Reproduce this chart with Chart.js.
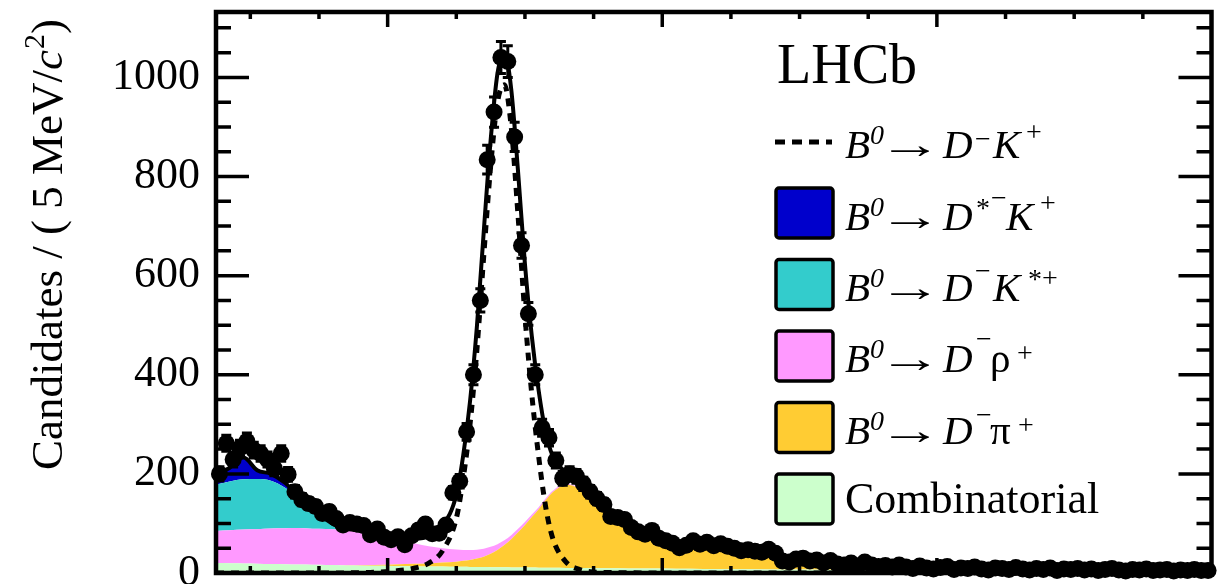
<!DOCTYPE html>
<html>
<head>
<meta charset="utf-8">
<script src="https://cdn.jsdelivr.net/npm/chart.js@4.4.1/dist/chart.umd.min.js"></script>
<style>
  html, body { margin: 0; padding: 0; background: #fff; }
</style>
</head>
<body>
<canvas id="massChart" width="1220" height="584"></canvas>
<script>
// m(D- K+) bin centres, 5 MeV/c2 bins
const binCenters = [
  5077.5, 5082.5, 5087.5, 5092.5, 5097.5, 5102.5, 5107.5, 5112.5, 5117.5, 5122.5,
  5127.5, 5132.5, 5137.5, 5142.5, 5147.5, 5152.5, 5157.5, 5162.5, 5167.5, 5172.5,
  5177.5, 5182.5, 5187.5, 5192.5, 5197.5, 5202.5, 5207.5, 5212.5, 5217.5, 5222.5,
  5227.5, 5232.5, 5237.5, 5242.5, 5247.5, 5252.5, 5257.5, 5262.5, 5267.5, 5272.5,
  5277.5, 5282.5, 5287.5, 5292.5, 5297.5, 5302.5, 5307.5, 5312.5, 5317.5, 5322.5,
  5327.5, 5332.5, 5337.5, 5342.5, 5347.5, 5352.5, 5357.5, 5362.5, 5367.5, 5372.5,
  5377.5, 5382.5, 5387.5, 5392.5, 5397.5, 5402.5, 5407.5, 5412.5, 5417.5, 5422.5,
  5427.5, 5432.5, 5437.5, 5442.5, 5447.5, 5452.5, 5457.5, 5462.5, 5467.5, 5472.5,
  5477.5, 5482.5, 5487.5, 5492.5, 5497.5, 5502.5, 5507.5, 5512.5, 5517.5, 5522.5,
  5527.5, 5532.5, 5537.5, 5542.5, 5547.5, 5552.5, 5557.5, 5562.5, 5567.5, 5572.5,
  5577.5, 5582.5, 5587.5, 5592.5, 5597.5, 5602.5, 5607.5, 5612.5, 5617.5, 5622.5,
  5627.5, 5632.5, 5637.5, 5642.5, 5647.5, 5652.5, 5657.5, 5662.5, 5667.5, 5672.5,
  5677.5, 5682.5, 5687.5, 5692.5, 5697.5, 5702.5, 5707.5, 5712.5, 5717.5, 5722.5,
  5727.5, 5732.5, 5737.5, 5742.5, 5747.5, 5752.5, 5757.5, 5762.5, 5767.5, 5772.5,
  5777.5, 5782.5, 5787.5, 5792.5, 5797.5
];

const candidates = [
  200, 262, 229, 252, 266, 248, 241, 229, 211, 241,
  199, 164, 148, 140, 134, 120, 124, 110, 97, 102,
  99, 96, 77, 89, 72, 67, 73, 57, 75, 87,
  99, 79, 80, 97, 162, 185, 285, 400, 550, 834,
  930, 1040, 1032, 880, 661, 523, 400, 293, 273, 227,
  191, 200, 195, 180, 164, 150, 138, 114, 112, 108,
  92, 83, 78, 86, 70, 65, 60, 51, 56, 65,
  58, 62, 55, 59, 54, 50, 45, 47, 44, 42,
  48, 40, 24, 22, 28, 30, 24, 26, 20, 25,
  18, 16, 20, 14, 22, 16, 13, 15, 12, 16,
  12, 9, 14, 10, 8, 11, 13, 7, 10, 9,
  12, 8, 6, 10, 9, 7, 11, 8, 6, 9,
  7, 10, 5, 8, 7, 9, 6, 8, 5, 7,
  9, 6, 4, 7, 6, 8, 5, 6, 7, 4,
  6, 5, 7, 5, 5
];

// fit components, sampled on one mass grid
const curveMass = [
  5075, 5085, 5095, 5105, 5115, 5125, 5135, 5145, 5155, 5165,
  5175, 5190, 5205, 5220, 5230, 5240, 5250, 5255, 5260, 5265,
  5270, 5275, 5280, 5285, 5290, 5295, 5300, 5305, 5310, 5315,
  5320, 5330, 5340, 5350, 5360, 5375, 5390, 5410, 5430, 5460,
  5500, 5550, 5600, 5650, 5700, 5750, 5800
];
const combinatorial = [
  20, 19.5, 19, 18.5, 18, 17.5, 17, 16.5, 16, 15.5,
  15, 14.5, 14, 13.5, 13, 13, 12.5, 12.5, 12.3, 12.1,
  12, 11.8, 11.6, 11.5, 11.3, 11.2, 11, 10.9, 10.8, 10.7,
  10.5, 10.3, 10, 9.8, 9.6, 9.3, 9, 8.6, 8.3, 7.8,
  7.2, 6.4, 5.7, 5, 4.4, 3.9, 3.5
];
const dPi = [
  0, 0, 0, 0, 0, 0, 0, 0, 0, 0,
  0.5, 1.5, 3, 5, 6, 8, 10, 12, 14, 17,
  21, 27, 35, 45, 57, 71, 86, 102, 118, 136,
  152, 168, 160, 138, 116, 92, 74, 56, 45, 35,
  24, 14, 9, 7, 5.5, 4, 3.5
];
const dRho = [
  65, 67, 69, 70, 72, 73, 74, 73, 73, 72,
  70, 62, 50, 41, 35, 29, 25, 22, 20, 18,
  16, 14, 11.5, 9.5, 8, 7, 6, 5, 4, 3.5,
  3, 2, 1.5, 1, 0.7, 0.4, 0.2, 0.1, 0, 0,
  0, 0, 0, 0, 0, 0, 0
];
const dKst = [
  93, 98, 101, 101, 96, 82, 61, 41, 19, 5,
  1, 0, 0, 0, 0, 0, 0, 0, 0, 0,
  0, 0, 0, 0, 0, 0, 0, 0, 0, 0,
  0, 0, 0, 0, 0, 0, 0, 0, 0, 0,
  0, 0, 0, 0, 0, 0, 0
];
const dstK = [
  20, 28, 44, 18, 14, 10, 4, 1, 0, 0,
  0, 0, 0, 0, 0, 0, 0, 0, 0, 0,
  0, 0, 0, 0, 0, 0, 0, 0, 0, 0,
  0, 0, 0, 0, 0, 0, 0, 0, 0, 0,
  0, 0, 0, 0, 0, 0, 0
];
const signalDK = [
  0, 0, 0, 0, 0, 0, 0, 0, 0, 0,
  0.5, 1.5, 4, 10, 20, 45, 110, 190, 300, 450,
  640, 820, 950, 985, 900, 720, 520, 360, 235, 135,
  72, 22, 7, 2, 1, 0.5, 0, 0, 0, 0,
  0, 0, 0, 0, 0, 0, 0
];

const yTickValues = [0, 200, 400, 600, 800, 1000];
const yMinorValues = [50, 100, 150, 250, 300, 350, 450, 500, 550, 650, 700, 750, 850, 900, 950, 1050, 1100];
const xTickValues = [5200, 5400, 5600];
const xMinorValues = [5100, 5150, 5250, 5300, 5350, 5450, 5500, 5550, 5650, 5700, 5750];

const SERIF = '"Liberation Serif", "Times New Roman", "DejaVu Serif", serif';

function pts(ys) {
  return curveMass.map((m, i) => ({ x: m, y: ys[i] }));
}

function area(label, ys, color, fill) {
  return {
    label, data: pts(ys), stack: 'bkg', order: 2,
    backgroundColor: color, borderWidth: 0, fill,
    pointRadius: 0, cubicInterpolationMode: 'monotone'
  };
}

function font(size, italic) {
  return (italic ? 'italic ' : '') + size + 'px ' + SERIF;
}

function put(ctx, s, x, y, size, italic) {
  ctx.font = font(size, italic);
  ctx.fillText(s, x, y);
}

// long arrow, ink stretched to span x0..x1
function arrow(ctx, x0, x1, y) {
  ctx.font = font(41, false);
  const m = ctx.measureText('\u2192');
  const ink = m.actualBoundingBoxRight + m.actualBoundingBoxLeft;
  const k = (x1 - x0) / ink;
  ctx.save();
  ctx.translate(x0, y);
  ctx.scale(k, 1);
  ctx.fillText('\u2192', m.actualBoundingBoxLeft, 0);
  ctx.restore();
}

function decayLabel(ctx, y, tail) {
  put(ctx, 'B', 845, y, 41, true);
  put(ctx, '0', 870, y - 14, 28, true);
  arrow(ctx, 891, 930, y);
  put(ctx, 'D', 943, y, 41, true);
  tail.forEach(p => put(ctx, p[0], p[1], y - p[2], p[3], p[4]));
}

const errorBars = {
  id: 'errorBars',
  beforeDatasetDraw(chart, args) {
    if (args.index !== 7) return;
    const { ctx, scales: { y } } = chart;
    const meta = chart.getDatasetMeta(7);
    ctx.save();
    ctx.strokeStyle = '#000';
    ctx.lineWidth = 3;
    ctx.beginPath();
    meta.data.forEach((pt, i) => {
      const n = candidates[i];
      const e = Math.sqrt(n);
      const top = y.getPixelForValue(n + e);
      const bot = y.getPixelForValue(n - e);
      ctx.moveTo(pt.x, top); ctx.lineTo(pt.x, bot);
      ctx.moveTo(pt.x - 5, top); ctx.lineTo(pt.x + 5, top);
      ctx.moveTo(pt.x - 5, bot); ctx.lineTo(pt.x + 5, bot);
    });
    ctx.stroke();
    ctx.restore();
  }
};

const frame = {
  id: 'frame',
  afterDatasetsDraw(chart) {
    const { ctx, chartArea: a, scales: { x, y } } = chart;
    ctx.save();
    ctx.strokeStyle = '#000';
    ctx.lineWidth = 3.5;
    ctx.beginPath();
    xTickValues.concat(xMinorValues).forEach(v => {
      const px = x.getPixelForValue(v);
      const len = xTickValues.includes(v) ? 15 : 7;
      ctx.moveTo(px, a.top); ctx.lineTo(px, a.top + len);
      ctx.moveTo(px, a.bottom); ctx.lineTo(px, a.bottom - len);
    });
    yTickValues.concat(yMinorValues).forEach(v => {
      const py = y.getPixelForValue(v);
      const len = yTickValues.includes(v) ? 33 : 15;
      ctx.moveTo(a.left, py); ctx.lineTo(a.left + len, py);
      ctx.moveTo(a.right, py); ctx.lineTo(a.right - len, py);
    });
    ctx.stroke();
    ctx.lineWidth = 4.5;
    ctx.strokeRect(a.left, a.top, a.right - a.left, a.bottom - a.top);
    ctx.restore();
  }
};

const annotations = {
  id: 'annotations',
  afterDraw(chart) {
    const ctx = chart.ctx;
    ctx.save();
    ctx.fillStyle = '#000';
    ctx.textBaseline = 'alphabetic';
    ctx.textAlign = 'left';

    // y axis title
    ctx.save();
    ctx.translate(62, 470);
    ctx.rotate(-Math.PI / 2);
    let cx = 0;
    ctx.font = font(45, false);
    const head = 'Candidates / ( 5 MeV/';
    ctx.fillText(head, cx, 0); cx += ctx.measureText(head).width;
    ctx.font = font(45, true);
    ctx.fillText('c', cx, 0); cx += ctx.measureText('c').width + 1;
    ctx.font = font(30, false);
    ctx.fillText('2', cx, -18); cx += ctx.measureText('2').width;
    ctx.font = font(45, false);
    ctx.fillText(')', cx, 0);
    ctx.restore();

    put(ctx, 'LHCb', 777, 83, 56, false);

    // legend
    ctx.strokeStyle = '#000';
    ctx.lineWidth = 5;
    ctx.setLineDash([10, 7]);
    ctx.beginPath(); ctx.moveTo(775, 142); ctx.lineTo(832, 142); ctx.stroke();
    ctx.setLineDash([]);

    const boxes = ['#0000CC', '#33CCCC', '#FF99FF', '#FFCC33', '#CCFFCC'];
    ctx.lineWidth = 3.5;
    boxes.forEach((c, i) => {
      const top = 188 + i * 71.5;
      ctx.fillStyle = c;
      ctx.beginPath();
      ctx.roundRect(776, top, 57, 50, 3);
      ctx.fill();
      ctx.stroke();
    });
    ctx.fillStyle = '#000';

    decayLabel(ctx, 158, [['\u2212', 975, 10, 28, false], ['K', 993, 0, 41, true], ['+', 1026, 17, 28, false]]);
    decayLabel(ctx, 230, [['*', 976, 13, 28, false], ['\u2212', 991, 23, 28, false], ['K', 1006, 0, 41, true], ['+', 1040, 18, 28, false]]);
    decayLabel(ctx, 301, [['\u2212', 975, 21, 28, false], ['K', 993, 0, 41, true], ['*', 1028, 13, 28, false], ['+', 1042, 14, 28, false]]);
    decayLabel(ctx, 372, [['\u2212', 976, 24, 28, false], ['\u03C1', 990, 0, 41, false], ['+', 1017, 10, 28, false]]);
    decayLabel(ctx, 444, [['\u2212', 976, 20, 28, false], ['\u03C0', 990, 0, 41, false], ['+', 1018, 10, 28, false]]);
    put(ctx, 'Combinatorial', 845, 513, 44, false);
    ctx.restore();
  }
};

new Chart(document.getElementById('massChart'), {
  type: 'line',
  data: {
    datasets: [
      area('Combinatorial', combinatorial, '#CCFFCC', 'origin'),
      area('B0 -> D- pi+', dPi, '#FFCC33', '-1'),
      area('B0 -> D- rho+', dRho, '#FF99FF', '-1'),
      area('B0 -> D- K*+', dKst, '#33CCCC', '-1'),
      area('B0 -> D*- K+', dstK, '#0000CC', '-1'),
      {
        label: 'Total fit', data: pts(signalDK), stack: 'bkg', order: 2,
        borderColor: '#000', borderWidth: 4, fill: false,
        pointRadius: 0, cubicInterpolationMode: 'monotone'
      },
      {
        label: 'B0 -> D- K+', data: pts(signalDK), stack: 'sig', order: 1,
        borderColor: '#000', borderWidth: 5, borderDash: [8, 7], fill: false,
        pointRadius: 0, cubicInterpolationMode: 'monotone'
      },
      {
        type: 'scatter', label: 'Data', stack: 'pts', order: 0,
        data: binCenters.map((m, i) => ({ x: m, y: candidates[i] })),
        showLine: false, pointRadius: 8.5, pointBackgroundColor: '#000',
        pointBorderWidth: 0, clip: 10
      }
    ]
  },
  options: {
    responsive: false,
    animation: false,
    layout: { padding: { top: 12, right: 5, left: 0, bottom: 0 } },
    plugins: {
      legend: { display: false },
      tooltip: { enabled: false },
      filler: { drawTime: 'beforeDatasetsDraw' }
    },
    scales: {
      x: {
        type: 'linear', min: 5075, max: 5800,
        grid: { display: false, drawTicks: false },
        border: { display: false },
        ticks: { display: false },
        afterFit: s => { s.height = 11; s.paddingLeft = 0; s.paddingRight = 0; }
      },
      y: {
        stacked: true, min: 0, max: 1132,
        grid: { display: false, drawTicks: false },
        border: { display: false },
        ticks: {
          color: '#000', padding: 16, font: { family: SERIF, size: 44 },
          callback: v => String(v)
        },
        afterBuildTicks: s => { s.ticks = yTickValues.map(v => ({ value: v })); },
        afterFit: s => { s.width = 216; s.paddingTop = 0; s.paddingBottom = 0; }
      }
    }
  },
  plugins: [errorBars, frame, annotations]
});
</script>
</body>
</html>
